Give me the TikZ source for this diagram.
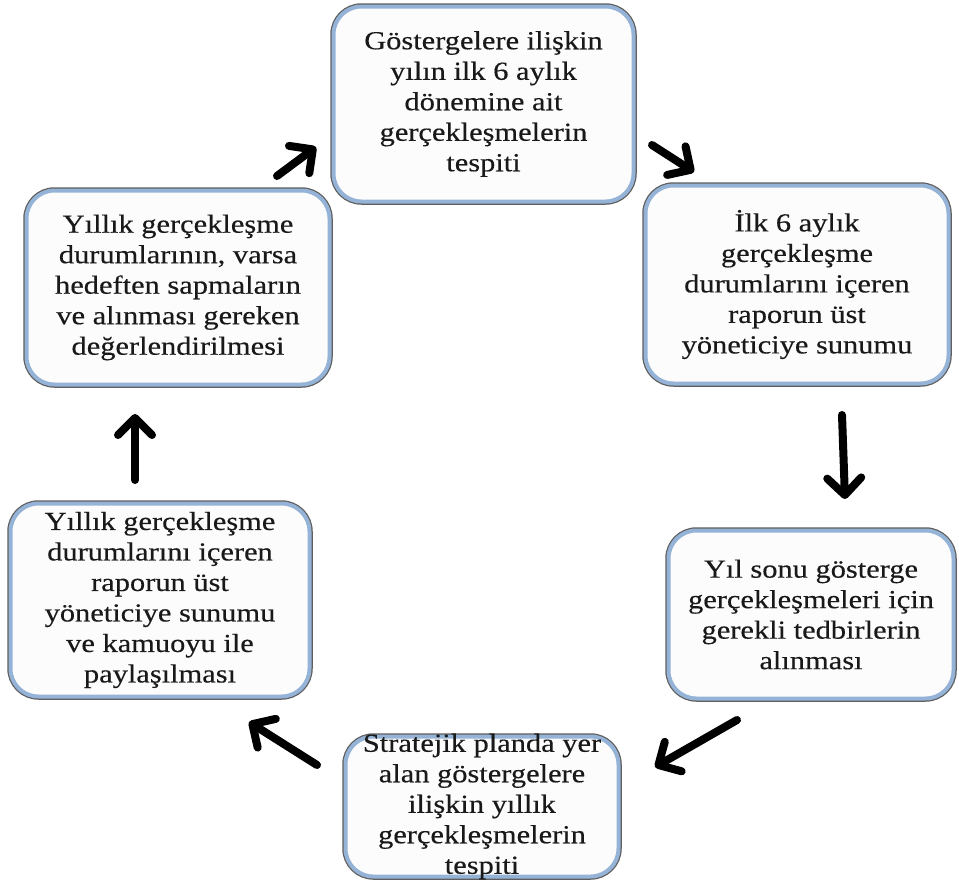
\documentclass[tikz,border=0pt]{standalone}
\usepackage{fontspec}
\setmainfont{Liberation Serif}[FakeStretch=1.17, FakeBold=0.35]
\usetikzlibrary{arrows.meta}
\definecolor{boxblue}{RGB}{149,179,215}
\definecolor{boxgray}{RGB}{95,95,95}
\definecolor{boxfill}{RGB}{252,252,252}
\definecolor{txtcol}{RGB}{25,25,25}
\tikzset{
  box/.style={rectangle, rounded corners=28pt, inner sep=0pt,
    preaction={draw=boxgray, line width=6.5pt},
    draw=boxblue, line width=4pt, fill=boxfill},
  txt/.style={align=center, text=txtcol, inner sep=0pt,
    font=\fontsize{26}{30.5}\selectfont},
  flow/.style={line width=8pt, line cap=round, draw=black,
    -{Straight Barb[length=17pt, width=34pt, round]}}
}
\begin{document}
\begin{tikzpicture}[x=1pt, y=-1pt]
\useasboundingbox[fill=white] (0,0) rectangle (959,889);

\node[box, minimum width=300pt, minimum height=195pt] (b1) at (483.5,104) {};
\node[txt] (t1) at (b1.center) {Göstergelere ilişkin\\yılın ilk 6 aylık\\dönemine ait\\gerçekleşmelerin\\tespiti};

\node[box, minimum width=303pt, minimum height=198pt] (b2) at (797,284.5) {};
\node[txt] (t2) at (b2.center) {İlk 6 aylık\\gerçekleşme\\durumlarını içeren\\raporun üst\\yöneticiye sunumu};

\node[box, minimum width=285pt, minimum height=168pt] (b5) at (811,614.5) {};
\node[txt] (t5) at (b5.center) {Yıl sonu gösterge\\gerçekleşmeleri için\\gerekli tedbirlerin\\alınması};

\node[box, minimum width=273pt, minimum height=140pt] (b6) at (482,806.5) {};
\node[txt] (t6) at (b6.center) {Stratejik planda yer\\alan göstergelere\\ilişkin yıllık\\gerçekleşmelerin\\tespiti};

\node[box, minimum width=299pt, minimum height=193pt] (b4) at (160,600) {};
\node[txt] (t4) at (b4.center) {Yıllık gerçekleşme\\durumlarını içeren\\raporun üst\\yöneticiye sunumu\\ve kamuoyu ile\\paylaşılması};

\node[box, minimum width=303pt, minimum height=194pt] (b3) at (178,287.5) {};
\node[txt] (t3) at (b3.center) {Yıllık gerçekleşme\\durumlarının, varsa\\hedeften sapmaların\\ve alınması gereken\\değerlendirilmesi};

\coordinate (a1s) at (277,176); \coordinate (a1e) at (316,147);
\coordinate (a2s) at (652,145); \coordinate (a2e) at (694,172);
\coordinate (a3s) at (842,415); \coordinate (a3e) at (845,499);
\coordinate (a4s) at (737,720); \coordinate (a4e) at (655,767);
\coordinate (a5s) at (317,765); \coordinate (a5e) at (249,722);
\coordinate (a6s) at (135,480); \coordinate (a6e) at (135,414);

\draw[flow] (a1s) -- (a1e);
\draw[flow] (a2s) -- (a2e);
\draw[flow] (a3s) -- (a3e);
\draw[flow] (a4s) -- (a4e);
\draw[flow] (a5s) -- (a5e);
\draw[flow] (a6s) -- (a6e);
\end{tikzpicture}
\end{document}
